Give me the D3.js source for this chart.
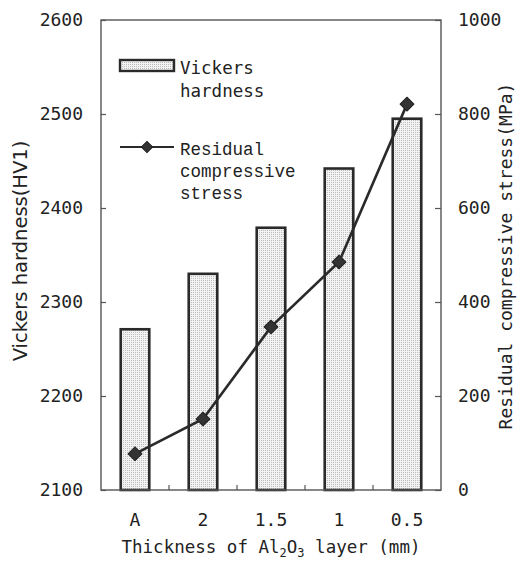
<!DOCTYPE html>
<html>
<head>
<meta charset="utf-8">
<script src="https://cdn.jsdelivr.net/npm/d3@7"></script>
<style>
  body { margin: 0; background: #fff; }
  text { fill: #222; }
</style>
</head>
<body>
<svg width="524" height="565"></svg>
<script>
const categories = ['A', '2', '1.5', '1', '0.5'];
const hardness = [2271, 2330, 2379, 2442, 2495];
const stress = [77, 151, 347, 485, 821];
const hardnessTicks = [2100, 2200, 2300, 2400, 2500, 2600];
const stressTicks = [0, 200, 400, 600, 800, 1000];

const svg = d3.select('svg');
const margin = { top: 20, right: 83, bottom: 75, left: 101 };
const width = +svg.attr('width');
const height = +svg.attr('height');
const innerW = width - margin.left - margin.right;
const innerH = height - margin.top - margin.bottom;

const sansMono = 'DejaVu Sans Mono, monospace';
const serifMono = 'Liberation Mono, monospace';

// dotted fill like the printed figure
const defs = svg.append('defs');
const pat = defs.append('pattern')
  .attr('id', 'dots')
  .attr('width', 2)
  .attr('height', 2)
  .attr('patternUnits', 'userSpaceOnUse');
pat.append('rect').attr('width', 2).attr('height', 2).attr('fill', '#f3f3f3');
pat.append('rect').attr('width', 1).attr('height', 1).attr('fill', '#bcbcbc');

const xScale = d3.scaleBand()
  .domain(categories)
  .range([0, innerW])
  .paddingInner(0.58)
  .paddingOuter(0.29);

const yLeft = d3.scaleLinear().domain([2100, 2600]).range([innerH, 0]);
const yRight = d3.scaleLinear().domain([0, 1000]).range([innerH, 0]);

const g = svg.append('g').attr('transform', `translate(${margin.left},${margin.top})`);

// bars
g.selectAll('rect.bar')
  .data(categories)
  .enter()
  .append('rect')
  .attr('class', 'bar')
  .attr('x', (d) => xScale(d))
  .attr('y', (d, i) => yLeft(hardness[i]))
  .attr('width', xScale.bandwidth())
  .attr('height', (d, i) => innerH - yLeft(hardness[i]))
  .attr('fill', 'url(#dots)')
  .attr('stroke', '#2a2a2a')
  .attr('stroke-width', 2.6);

// frame
g.append('rect')
  .attr('width', innerW)
  .attr('height', innerH)
  .attr('fill', 'none')
  .attr('stroke', '#555')
  .attr('stroke-width', 1.4);

// left axis
const leftAxis = g.append('g')
  .call(d3.axisLeft(yLeft).tickValues(hardnessTicks).tickSize(-5).tickPadding(18).tickFormat(d3.format('d')));
leftAxis.select('.domain').remove();
leftAxis.selectAll('line').attr('stroke', '#555').attr('stroke-width', 1.2);
leftAxis.selectAll('text')
  .attr('font-family', sansMono)
  .attr('font-size', 18);

// right axis
const rightAxis = g.append('g')
  .attr('transform', `translate(${innerW},0)`)
  .call(d3.axisRight(yRight).tickValues(stressTicks).tickSize(-6).tickPadding(17).tickFormat(d3.format('d')));
rightAxis.select('.domain').remove();
rightAxis.selectAll('line').attr('stroke', '#555').attr('stroke-width', 1.2);
rightAxis.selectAll('text')
  .attr('font-family', sansMono)
  .attr('font-size', 18);

// bottom axis: labels under categories, small ticks between them
const bottomAxis = g.append('g')
  .attr('transform', `translate(0,${innerH})`)
  .call(d3.axisBottom(xScale).tickSize(0).tickPadding(23));
bottomAxis.select('.domain').remove();
bottomAxis.selectAll('text')
  .attr('font-family', sansMono)
  .attr('font-size', 18);

const step = xScale.step();
g.append('g')
  .selectAll('line')
  .data(categories.slice(1))
  .enter()
  .append('line')
  .attr('x1', (d) => xScale(d) - (step - xScale.bandwidth()) / 2)
  .attr('x2', (d) => xScale(d) - (step - xScale.bandwidth()) / 2)
  .attr('y1', innerH)
  .attr('y2', innerH - 5)
  .attr('stroke', '#555')
  .attr('stroke-width', 1.2);

// stress line
const line = d3.line()
  .x((d, i) => xScale(categories[i]) + xScale.bandwidth() / 2)
  .y((d) => yRight(d));

g.append('path')
  .datum(stress)
  .attr('d', line)
  .attr('fill', 'none')
  .attr('stroke', '#2a2a2a')
  .attr('stroke-width', 2.6);

// rotated square marker
const marker = d3.symbol().type(d3.symbolSquare).size(96);
g.selectAll('path.pt')
  .data(stress)
  .enter()
  .append('path')
  .attr('class', 'pt')
  .attr('d', marker)
  .attr('transform', (d, i) => `translate(${xScale(categories[i]) + xScale.bandwidth() / 2},${yRight(d)}) rotate(45)`)
  .attr('fill', '#333')
  .attr('stroke', '#222')
  .attr('stroke-width', 1)
  .attr('stroke-linejoin', 'round');

// legend
const lg = g.append('g').attr('transform', 'translate(19,40)');
lg.append('rect')
  .attr('x', 0).attr('y', 0)
  .attr('width', 54).attr('height', 11)
  .attr('fill', 'url(#dots)')
  .attr('stroke', '#2a2a2a')
  .attr('stroke-width', 2.4);
lg.append('text').attr('x', 60).attr('y', 14).attr('font-family', sansMono).attr('font-size', 17.5).text('Vickers');
lg.append('text').attr('x', 60).attr('y', 37).attr('font-family', sansMono).attr('font-size', 17.5).text('hardness');

lg.append('line')
  .attr('x1', 0).attr('x2', 54)
  .attr('y1', 87).attr('y2', 87)
  .attr('stroke', '#2a2a2a')
  .attr('stroke-width', 2.2);
lg.append('path')
  .attr('d', d3.symbol().type(d3.symbolSquare).size(64))
  .attr('transform', 'translate(27,87) rotate(45)')
  .attr('fill', '#333')
  .attr('stroke', '#222');
lg.append('text').attr('x', 60).attr('y', 95).attr('font-family', serifMono).attr('font-size', 17.5).text('Residual');
lg.append('text').attr('x', 60).attr('y', 117).attr('font-family', serifMono).attr('font-size', 17.5).text('compressive');
lg.append('text').attr('x', 60).attr('y', 139).attr('font-family', serifMono).attr('font-size', 17.5).text('stress');

// axis titles
svg.append('text')
  .attr('transform', 'translate(27,251) rotate(-90)')
  .attr('text-anchor', 'middle')
  .attr('font-family', 'DejaVu Sans, sans-serif')
  .attr('font-size', 19.5)
  .text('Vickers hardness(HV1)');

svg.append('text')
  .attr('transform', 'translate(512,256) rotate(-90)')
  .attr('text-anchor', 'middle')
  .attr('font-family', sansMono)
  .attr('font-size', 18)
  .text('Residual compressive stress(MPa)');

const xt = svg.append('text')
  .attr('x', margin.left + innerW / 2)
  .attr('y', 553)
  .attr('text-anchor', 'middle')
  .attr('font-family', sansMono)
  .attr('font-size', 17.5);
xt.append('tspan').text('Thickness of Al');
xt.append('tspan').attr('font-size', 12).attr('dy', 4).text('2');
xt.append('tspan').attr('dy', -4).text('O');
xt.append('tspan').attr('font-size', 12).attr('dy', 4).text('3');
xt.append('tspan').attr('dy', -4).text(' layer (mm)');
</script>
</body>
</html>
